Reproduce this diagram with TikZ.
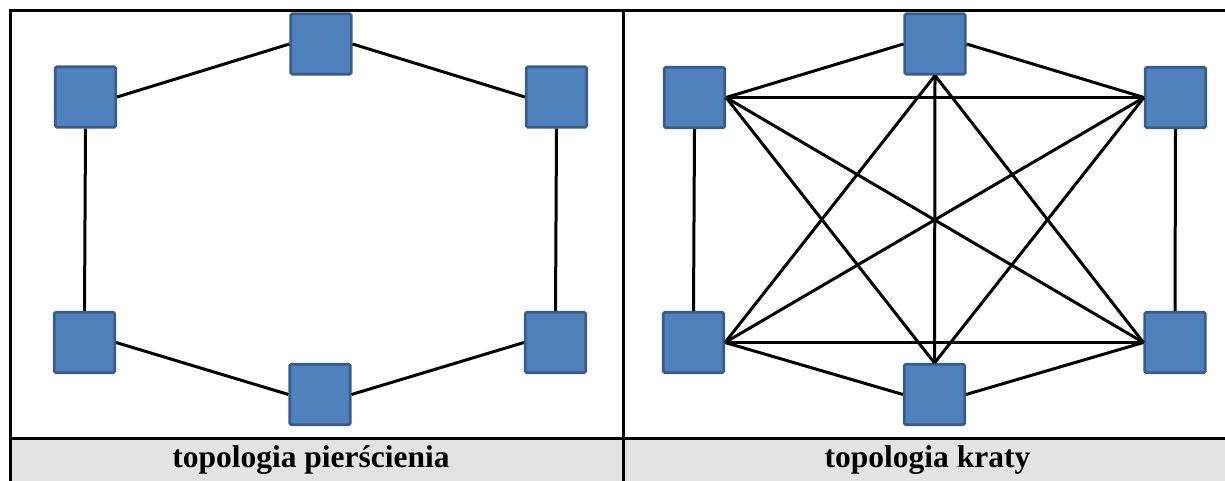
\documentclass[tikz,border=0pt]{standalone}
\usepackage{fontspec}
\setmainfont{Liberation Serif}
\usetikzlibrary{positioning}
\definecolor{cnode}{HTML}{4F81BD}
\definecolor{cnodeline}{HTML}{385D8A}
\definecolor{chead}{HTML}{E3E3E3}
\tikzset{
  host/.style={draw=cnodeline,fill=cnode,line width=2.6pt,rounded corners=1.5pt,
    minimum size=60.5pt,inner sep=0pt},
  link/.style={line width=3pt},
  frame/.style={line width=3pt}
}

\begin{document}
\begin{tikzpicture}[x=1pt,y=-1pt]
    \useasboundingbox (0,0) rectangle (1225,481);
    % table: header row and cell borders
    \fill[chead] (10,438.7) rectangle (1240,490);
    \draw[frame] (10,495)--(10,11)--(1240,11);
    \draw[frame] (623,11)--(623,495);
    \draw[frame] (10,438.7)--(1240,438.7);
    \node[font=\bfseries\fontsize{31.5}{36}\selectfont,anchor=base] (capring) at (311,467) {topologia pierścienia};
    \node[font=\bfseries\fontsize{31.5}{36}\selectfont,anchor=base] (capmesh) at (927.5,467) {topologia kraty};

    % ring
    \node[host] (r1) at (85.5,97) {};
    \node[host] (r2) at (321,44) {};
    \node[host] (r3) at (556.5,97) {};
    \node[host] (r4) at (555.5,342.5) {};
    \node[host] (r5) at (320,394.5) {};
    \node[host] (r6) at (84.5,342.5) {};
    \draw[link] (r1.east)--(r2.west); \draw[link] (r2.east)--(r3.west);
    \draw[link] (r3.south)--(r4.north); \draw[link] (r4.west)--(r5.east);
    \draw[link] (r5.west)--(r6.east); \draw[link] (r6.north)--(r1.south);

    % full mesh
    \node[host] (m1) at (694.5,97.5) {};
    \node[host] (m2) at (935,44) {};
    \node[host] (m3) at (1175.5,97.5) {};
    \node[host] (m4) at (1175,342.5) {};
    \node[host] (m5) at (934.5,394.5) {};
    \node[host] (m6) at (693.5,342.5) {};
    \draw[link] (m1.east)--(m2.west); \draw[link] (m2.east)--(m3.west);
    \draw[link] (m3.south)--(m4.north); \draw[link] (m4.west)--(m5.east);
    \draw[link] (m5.west)--(m6.east); \draw[link] (m6.north)--(m1.south);
    \draw[link] (m1.east)--(m3.west); \draw[link] (m1.east)--(m5.north);
    \draw[link] (m1.east)--(m4.west); \draw[link] (m2.south)--(m6.east);
    \draw[link] (m2.south)--(m5.north); \draw[link] (m2.south)--(m4.west);
    \draw[link] (m3.west)--(m6.east); \draw[link] (m3.west)--(m5.north);
    \draw[link] (m6.east)--(m4.west);
  \end{tikzpicture}
\end{document}
